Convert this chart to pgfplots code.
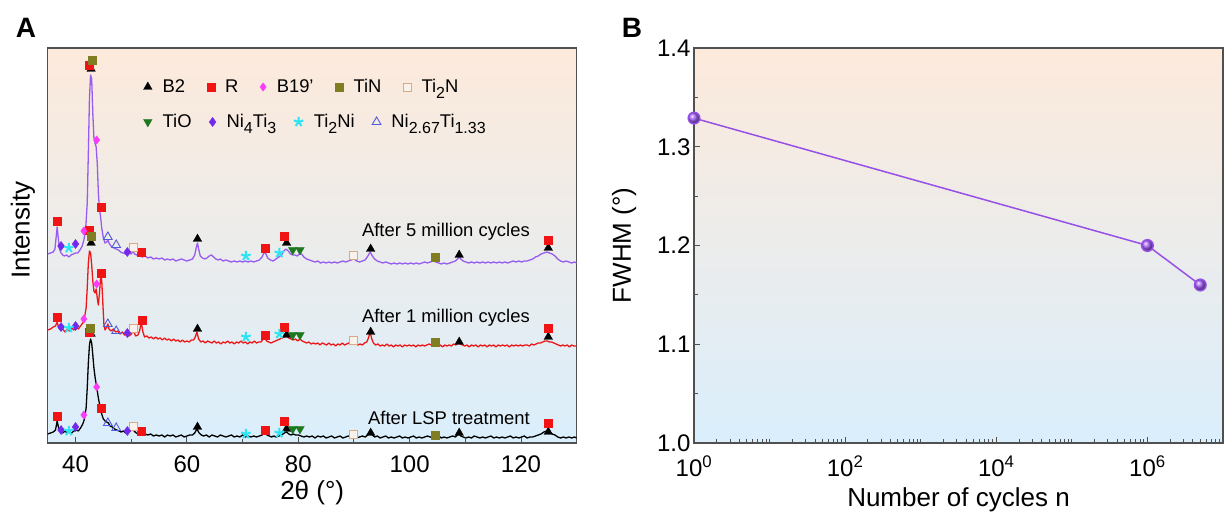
\documentclass[border=0pt]{standalone}
\usepackage{fontspec}
\setmainfont{Liberation Sans}
\usepackage{pgfplots}
\pgfplotsset{compat=1.18}
\definecolor{peach}{RGB}{253,234,219}
\definecolor{skyb}{RGB}{218,238,252}
\definecolor{cpurple}{RGB}{152,92,240}
\definecolor{cred}{RGB}{236,24,24}
\definecolor{mR}{RGB}{240,20,20}
\definecolor{mB19}{RGB}{250,60,250}
\definecolor{mTiN}{RGB}{128,125,35}
\definecolor{mTiTwoN}{RGB}{215,170,130}
\definecolor{mTiO}{RGB}{30,120,30}
\definecolor{mNiFour}{RGB}{115,40,235}
\definecolor{mTiTwoNi}{RGB}{45,228,245}
\definecolor{mNiTwo}{RGB}{80,90,220}
\definecolor{framec}{RGB}{80,80,80}
\definecolor{fwhm}{RGB}{150,80,230}
\definecolor{fwhmball}{RGB}{165,95,250}
\newcommand{\sub}[1]{\raisebox{-0.32em}{\fontsize{16}{17}\selectfont #1}}
\pgfplotsset{
  common/.style={
    scale only axis, width=529pt, height=395pt,
    axis line style={framec, line width=1.1pt},
    tick style={framec, line width=1pt},
    tick align=inside,
    major tick length=6pt, minor tick length=4pt,
    tick label style={font=\fontsize{24}{28}\selectfont},
    xticklabel style={yshift=-9pt},
    label style={font=\fontsize{26}{30}\selectfont},
    /pgf/number format/assume math mode=true,
  },
  legrow/.style={
    legend columns=-1,
    legend image code/.code={\draw[##1] plot coordinates {(0pt,0pt)};},
    legend style={draw=none, fill=none, font=\fontsize{18.4}{22}\selectfont,
      anchor=west, inner sep=0pt, outer sep=0pt, nodes={inner sep=1.5pt},
      /tikz/every odd column/.append style={column sep=9pt},
      /tikz/every even column/.append style={column sep=#1}},
  },
  mB2/.style={only marks, mark=triangle*, mark size=5pt, mark options={solid, draw=black, fill=black, line width=0.3pt}},
  mRs/.style={only marks, mark=square*, mark size=4pt, mark options={solid, draw=mR, fill=mR, line width=0.3pt}},
  mB19s/.style={only marks, mark=diamond*, mark size=4.2pt, mark options={solid, draw=mB19, fill=mB19, line width=0.3pt}},
  mTiNs/.style={only marks, mark=square*, mark size=4pt, mark options={solid, draw=mTiN, fill=mTiN, line width=0.3pt}},
  mTiTwoNs/.style={only marks, mark=square*, mark size=4pt, mark options={solid, draw=mTiTwoN, fill=white!85!mTiTwoN, line width=0.9pt}},
  mTiOs/.style={only marks, mark=triangle*, mark size=5pt, mark options={solid, rotate=180, draw=mTiO, fill=mTiO, line width=0.3pt}},
  mNiFours/.style={only marks, mark=diamond*, mark size=4.6pt, mark options={solid, draw=mNiFour, fill=mNiFour, line width=0.3pt}},
  mTiTwoNis/.style={only marks, mark=star, mark size=5pt, mark options={solid, draw=mTiTwoNi, fill=mTiTwoNi, line width=2pt}},
  mNiTwos/.style={only marks, mark=triangle, mark size=5pt, mark options={solid, draw=mNiTwo, line width=0.9pt}},
}
\begin{document}
\begin{tikzpicture}
\useasboundingbox (0pt,0pt) rectangle (1225pt,521pt);
\node[font=\fontsize{28}{32}\selectfont\bfseries] at (26pt,493pt) {A};
\node[font=\fontsize{28}{32}\selectfont\bfseries] at (632pt,493pt) {B};
% ---------------- Panel A ----------------
\begin{axis}[common, at={(47.7pt,78pt)}, anchor=south west,
  axis background/.style={top color=peach, bottom color=skyb},
  xmin=35, xmax=130, ymin=0, ymax=395,
  xtick={40,60,80,100,120}, minor x tick num=1, ytick=\empty, tick pos=left,
  xlabel={2θ (°)}, ylabel={Intensity},
  xlabel style={at={(axis description cs:0.5,-0.1266)}, anchor=center},
  ylabel style={at={(axis description cs:-0.047,0.539)}, anchor=center},
  legrow=20pt, legend style={at={(0.1811,0.9013)}},
]
% After 5 million cycles
\addplot[cpurple, line width=1.3pt, line join=round, forget plot] coordinates {
(35.0,189) (35.5,190) (36.0,191) (36.3,194) (36.5,205) (36.7,216) (36.9,205) (37.1,194) (37.4,190) (37.7,188)
(38.0,187) (38.4,188) (38.8,186) (39.2,188) (39.6,189) (40.0,190) (40.4,190) (40.8,193) (41.2,197) (41.5,203)
(41.8,212) (42.1,240) (42.3,290) (42.5,345) (42.7,368) (42.9,364) (43.1,330) (43.3,305) (43.5,300) (43.7,296)
(43.9,280) (44.1,250) (44.3,234) (44.5,226) (44.7,215) (45.0,205) (45.3,200) (45.6,201) (45.8,203) (46.1,199)
(46.5,196) (46.9,195) (47.3,194) (47.7,193) (48.1,191) (48.5,190) (49.0,189) (49.5,190) (50.0,189) (50.3,192)
(50.6,189) (51.0,188) (51.5,187) (52.0,186) (52.5,187) (53.0,185) (53.5,186) (54.0,184) (54.5,185) (55.0,184)
(55.5,185) (56.0,183) (56.5,184) (57.0,183) (57.5,184) (58.0,182) (58.5,183) (59.0,184) (59.5,183) (60.0,182)
(60.5,183) (61.0,184) (61.4,188) (61.7,196) (61.9,200) (62.1,194) (62.4,187) (62.8,185) (63.2,184) (63.6,185)
(64.0,187) (64.4,188) (64.8,186) (65.2,184) (65.6,183) (66.0,184) (66.5,182) (67.0,183) (67.5,182) (68.0,181)
(68.5,182) (69.0,181) (69.5,182) (70.0,181) (70.5,182) (71.0,181) (71.5,182) (72.0,181) (72.5,182) (73.0,183)
(73.5,186) (73.9,191) (74.2,189) (74.5,185) (75.0,183) (75.5,182) (76.0,184) (76.5,186) (77.0,188) (77.4,192)
(77.8,194) (78.2,192) (78.6,189) (79.0,188) (79.4,188) (79.8,187) (80.2,189) (80.6,189) (81.0,186) (81.5,184)
(82.0,183) (82.5,182) (83.0,181) (83.5,182) (84.0,180) (84.5,181) (85.0,180) (85.5,181) (86.0,180) (86.5,181)
(87.0,180) (87.5,181) (88.0,182) (88.5,181) (89.0,182) (89.5,183) (90.0,184) (90.5,182) (91.0,181) (91.5,182)
(92.0,183) (92.5,187) (92.9,191) (93.3,187) (93.7,184) (94.2,182) (94.7,181) (95.2,180) (95.7,181) (96.2,180)
(96.7,179) (97.2,180) (97.7,179) (98.2,180) (98.7,179) (99.2,180) (99.7,179) (100.2,180) (100.7,179) (101.2,180)
(101.7,179) (102.2,180) (102.7,181) (103.2,180) (103.7,181) (104.2,182) (104.7,181) (105.2,180) (105.7,179) (106.2,180)
(106.7,179) (107.2,180) (107.7,181) (108.2,182) (108.6,184) (108.9,186) (109.2,184) (109.6,182) (110.1,181) (110.6,180)
(111.1,181) (111.6,180) (112.1,181) (112.6,180) (113.1,181) (113.6,180) (114.1,181) (114.6,180) (115.1,181) (115.6,180)
(116.1,181) (116.6,180) (117.1,181) (117.6,180) (118.1,181) (118.6,182) (119.1,181) (119.6,182) (120.1,181) (120.6,182)
(121.1,182) (121.6,183) (122.1,184) (122.6,186) (123.1,187) (123.6,189) (124.1,190) (124.6,191) (125.1,190) (125.6,189)
(126.1,187) (126.6,184) (127.1,182) (127.6,181) (128.1,182) (128.6,181) (129.1,180) (129.6,181) (130.0,180)};
% After 1 million cycles
\addplot[cred, line width=1.3pt, line join=round, forget plot] coordinates {
(35.0,113) (35.5,114) (36.0,116) (36.4,117) (36.7,121) (37.0,115) (37.3,113) (37.7,114) (38.1,111) (38.5,114)
(38.9,112) (39.3,115) (39.7,113) (40.1,116) (40.5,114) (40.9,117) (41.3,120) (41.6,125) (41.9,135) (42.1,155)
(42.3,180) (42.5,192) (42.7,190) (42.9,178) (43.1,162) (43.3,152) (43.5,150) (43.7,154) (43.9,145) (44.1,138)
(44.3,150) (44.5,166) (44.7,163) (44.9,140) (45.1,118) (45.3,113) (45.6,116) (45.8,119) (46.0,114) (46.4,112)
(46.8,114) (47.2,111) (47.6,112) (48.0,109) (48.4,111) (48.8,108) (49.2,110) (49.6,107) (50.0,109) (50.4,112)
(50.8,107) (51.2,108) (51.5,112) (51.8,121) (52.1,111) (52.4,106) (52.8,107) (53.2,105) (53.6,106) (54.0,104)
(54.4,106) (54.8,104) (55.2,105) (55.6,103) (56.0,105) (56.4,103) (56.8,104) (57.2,102) (57.6,104) (58.0,102)
(58.4,103) (58.8,101) (59.2,103) (59.6,101) (60.0,102) (60.4,101) (60.8,103) (61.2,103) (61.5,106) (61.8,111)
(62.1,104) (62.5,101) (62.9,102) (63.3,100) (63.7,102) (64.1,101) (64.5,100) (64.9,102) (65.3,100) (65.7,101)
(66.1,99) (66.5,101) (66.9,100) (67.3,102) (67.7,100) (68.1,101) (68.5,99) (68.9,101) (69.3,100) (69.7,102)
(70.1,100) (70.5,101) (70.9,99) (71.3,101) (71.7,100) (72.1,102) (72.5,100) (72.9,101) (73.3,101) (73.7,104)
(74.0,106) (74.3,102) (74.7,101) (75.1,100) (75.5,101) (75.9,102) (76.3,103) (76.7,104) (77.1,105) (77.5,106)
(77.9,107) (78.3,105) (78.7,104) (79.1,103) (79.5,104) (79.9,102) (80.3,104) (80.7,102) (81.1,101) (81.5,100)
(81.9,101) (82.3,99) (82.7,100) (83.1,99) (83.5,100) (83.9,98) (84.3,100) (84.7,99) (85.1,98) (85.5,100)
(85.9,98) (86.3,99) (86.7,97) (87.1,99) (87.5,98) (87.9,100) (88.3,98) (88.7,99) (89.1,100) (89.5,99)
(89.9,100) (90.3,99) (90.7,98) (91.1,99) (91.5,98) (91.9,100) (92.3,101) (92.6,105) (92.9,111) (93.2,104)
(93.5,100) (93.9,98) (94.3,99) (94.7,97) (95.1,98) (95.5,97) (95.9,99) (96.3,97) (96.7,98) (97.1,96)
(97.5,98) (97.9,97) (98.3,98) (98.7,96) (99.1,98) (99.5,97) (99.9,98) (100.3,97) (100.7,98) (101.1,96)
(101.5,98) (101.9,97) (102.3,98) (102.7,97) (103.1,98) (103.5,99) (103.9,98) (104.3,99) (104.7,98) (105.1,97)
(105.5,98) (105.9,96) (106.3,98) (106.7,97) (107.1,98) (107.5,97) (107.9,99) (108.3,98) (108.7,100) (109.1,99)
(109.5,98) (109.9,97) (110.3,98) (110.7,96) (111.1,98) (111.5,97) (111.9,98) (112.3,96) (112.7,98) (113.1,97)
(113.5,98) (113.9,96) (114.3,98) (114.7,97) (115.1,98) (115.5,96) (115.9,98) (116.3,97) (116.7,98) (117.1,97)
(117.5,98) (117.9,96) (118.3,98) (118.7,97) (119.1,98) (119.5,97) (119.9,98) (120.3,97) (120.7,98) (121.1,98)
(121.5,97) (121.9,99) (122.3,98) (122.7,99) (123.1,100) (123.5,100) (123.9,101) (124.3,102) (124.7,102) (125.1,101)
(125.5,101) (125.9,100) (126.3,99) (126.7,98) (127.1,97) (127.5,98) (127.9,97) (128.3,98) (128.7,96) (129.1,98)
(129.5,97) (130.0,97)};
% After LSP treatment
\addplot[black, line width=1.3pt, line join=round, forget plot] coordinates {
(35.0,9) (35.5,10) (36.0,11) (36.4,13) (36.7,22) (37.0,14) (37.3,11) (37.7,10) (38.1,12) (38.5,10)
(38.9,11) (39.3,10) (39.7,12) (40.1,13) (40.5,12) (40.9,15) (41.3,19) (41.6,24) (41.9,35) (42.1,55)
(42.3,80) (42.5,98) (42.7,104) (42.9,100) (43.1,88) (43.3,75) (43.5,66) (43.8,56) (44.1,45) (44.4,36)
(44.7,29) (45.0,24) (45.3,22) (45.6,21) (45.9,20) (46.2,17) (46.6,16) (47.0,14) (47.4,13) (47.8,12)
(48.2,11) (48.6,12) (49.0,10) (49.4,11) (49.8,12) (50.2,15) (50.5,12) (50.9,10) (51.3,9) (51.7,10)
(52.1,8) (52.5,9) (53.0,8) (53.5,9) (54.0,7) (54.5,8) (55.0,7) (55.5,8) (56.0,6) (56.5,8)
(57.0,7) (57.5,8) (58.0,6) (58.5,7) (59.0,8) (59.5,6) (60.0,7) (60.5,8) (61.0,8) (61.4,10)
(61.8,14) (62.2,10) (62.6,8) (63.0,7) (63.5,8) (64.0,6) (64.5,8) (65.0,7) (65.5,6) (66.0,8)
(66.5,7) (67.0,6) (67.5,7) (68.0,8) (68.5,6) (69.0,7) (69.5,6) (70.0,8) (70.5,6) (71.0,7)
(71.5,6) (72.0,7) (72.5,6) (73.0,7) (73.5,8) (74.0,10) (74.4,8) (74.8,7) (75.2,6) (75.6,7)
(76.0,6) (76.5,7) (77.0,8) (77.5,10) (77.9,11) (78.3,9) (78.7,8) (79.1,9) (79.5,8) (80.0,8)
(80.5,7) (81.0,6) (81.5,7) (82.0,6) (82.5,7) (83.0,5) (83.5,7) (84.0,6) (84.5,7) (85.0,5)
(85.5,6) (86.0,7) (86.5,5) (87.0,6) (87.5,7) (88.0,5) (88.5,6) (89.0,7) (89.5,6) (90.0,7)
(90.5,5) (91.0,6) (91.5,7) (92.0,6) (92.5,8) (92.9,11) (93.3,8) (93.7,6) (94.2,7) (94.7,5)
(95.2,6) (95.7,7) (96.2,5) (96.7,6) (97.2,5) (97.7,6) (98.2,7) (98.7,5) (99.2,6) (99.7,5)
(100.2,6) (100.7,7) (101.2,5) (101.7,6) (102.2,5) (102.7,6) (103.2,7) (103.7,6) (104.2,5) (104.7,6)
(105.2,7) (105.7,5) (106.2,6) (106.7,5) (107.2,6) (107.7,7) (108.2,6) (108.6,8) (108.9,9) (109.2,7)
(109.6,6) (110.1,5) (110.6,6) (111.1,5) (111.6,7) (112.1,6) (112.6,5) (113.1,6) (113.6,5) (114.1,6)
(114.6,7) (115.1,5) (115.6,6) (116.1,5) (116.6,6) (117.1,5) (117.6,6) (118.1,7) (118.6,5) (119.1,6)
(119.6,5) (120.1,6) (120.6,7) (121.1,5) (121.6,6) (122.1,6) (122.6,7) (123.1,8) (123.6,9) (124.1,11)
(124.6,12) (125.1,11) (125.6,9) (126.1,8) (126.6,6) (127.1,5) (127.6,6) (128.1,5) (128.6,6) (129.1,5)
(129.6,6) (130.0,5)};
% phase markers, first legend row
\addplot[mB2] coordinates {(42.8,374) (61.9,204) (77.9,200) (93.0,194) (108.9,188) (124.9,195)
 (42.8,200) (61.9,114) (77.9,108) (93.0,111) (108.9,101) (124.9,106)
 (42.8,109) (61.9,16) (77.9,14) (93.0,10) (108.9,10) (124.9,11)};
\addlegendentry{B2}
\addplot[mRs] coordinates {(36.7,222) (42.5,378) (44.6,236) (51.8,191) (74.0,195) (77.5,207) (124.9,203)
 (36.7,126) (42.5,213) (44.6,170) (51.9,123) (74.0,108) (77.5,116) (124.9,115)
 (36.7,27) (42.5,111) (44.6,35) (51.8,12) (74.0,13) (77.5,22) (124.9,20)};
\addlegendentry{R}
\addplot[mB19s] coordinates {(41.5,212) (43.8,303) (41.5,124) (43.8,159) (41.5,28) (43.8,56)};
\addlegendentry{B19'}
\addplot[mTiNs] coordinates {(43.0,383) (104.6,186) (42.8,207) (104.6,101) (42.7,115) (104.6,8)};
\addlegendentry{TiN}
\addplot[mTiTwoNs] coordinates {(50.4,196) (89.9,188) (50.4,115) (89.9,103) (50.4,17) (89.9,9)};
\addlegendentry{Ti\sub{2}N}
\node[anchor=east, font=\fontsize{18.4}{22}\selectfont] at (axis cs:122.2,211) {After 5 million cycles};
\node[anchor=east, font=\fontsize{18.4}{22}\selectfont] at (axis cs:122.2,125) {After 1 million cycles};
\node[anchor=east, font=\fontsize{18.4}{22}\selectfont] at (axis cs:122.2,25) {After LSP treatment};
\end{axis}
% overlay axis for the second legend row
\begin{axis}[scale only axis, width=529pt, height=395pt, at={(47.7pt,78pt)}, anchor=south west,
  xmin=35, xmax=130, ymin=0, ymax=395, hide axis,
  legrow=16pt, legend style={at={(0.1811,0.8127)}},
]
\addplot[mTiOs] coordinates {(79.0,193) (80.3,193) (79.0,108) (80.3,108) (79.0,14) (80.3,14)};
\addlegendentry{TiO}
\addplot[mNiFours] coordinates {(37.4,197) (40.0,199) (49.3,191) (37.4,116) (40.0,117) (49.3,110) (37.4,13) (40.0,16) (49.3,12)};
\addlegendentry{Ni\sub{4}Ti\sub{3}}
\addplot[mTiTwoNis] coordinates {(38.8,195) (70.6,187) (76.6,190) (38.8,115) (70.6,106) (76.6,109) (38.8,12) (70.6,9) (76.6,10)};
\addlegendentry{Ti\sub{2}Ni}
\addplot[mNiTwos] coordinates {(45.8,206) (47.3,198) (45.8,119) (47.3,112) (45.8,20) (47.3,15)};
\addlegendentry{Ni\sub{2.67}Ti\sub{1.33}}
\end{axis}
% ---------------- Panel B ----------------
\begin{axis}[common, at={(694pt,78pt)}, anchor=south west,
  axis background/.style={top color=peach, bottom color=skyb},
  xmode=log, xmin=1, xmax=1e7, ymin=1.0, ymax=1.4,
  xtick={1,100,10000,1000000},
  xticklabels={10\textsuperscript{0},10\textsuperscript{2},10\textsuperscript{4},10\textsuperscript{6}},
  minor xtick={2,3,4,5,6,7,8,9,10,20,30,40,50,60,70,80,90,
    200,300,400,500,600,700,800,900,1000,2000,3000,4000,5000,6000,7000,8000,9000,
    20000,30000,40000,50000,60000,70000,80000,90000,100000,200000,300000,400000,500000,600000,700000,800000,900000,
    2000000,3000000,4000000,5000000,6000000,7000000,8000000,9000000},
  ytick={1.0,1.1,1.2,1.3,1.4}, minor ytick={1.05,1.15,1.25,1.35},
  yticklabel style={/pgf/number format/fixed, /pgf/number format/fixed zerofill, /pgf/number format/precision=1},
  tick pos=left,
  xlabel={Number of cycles n}, ylabel={FWHM (°)},
  xlabel style={at={(axis description cs:0.5,-0.1443)}, anchor=center},
  ylabel style={at={(axis description cs:-0.1323,0.5)}, anchor=center},
]
\addplot[fwhm, line width=1.5pt, mark=ball, mark size=5.8pt, mark options={ball color=fwhmball}]
  coordinates {(1,1.329) (1000000,1.200) (5000000,1.160)};
\end{axis}
\end{tikzpicture}
\end{document}
